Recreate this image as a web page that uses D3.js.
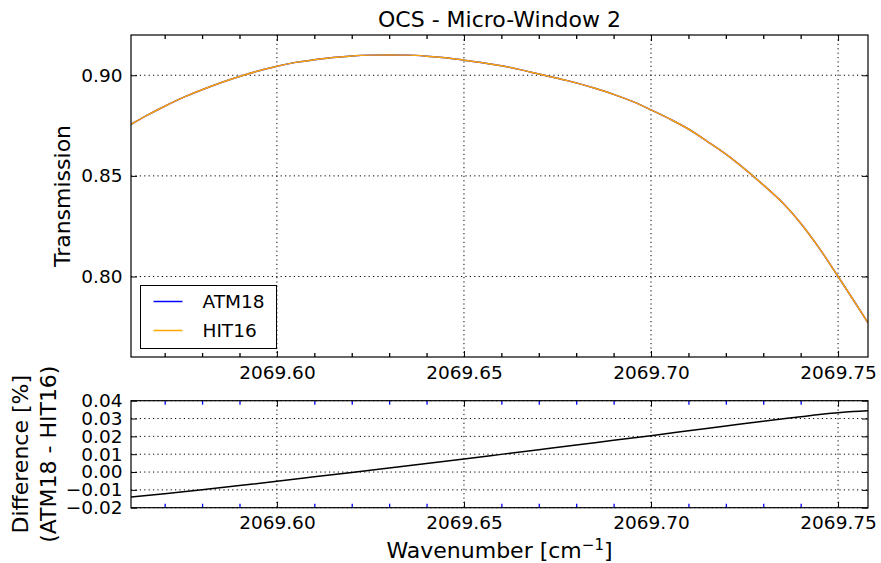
<!DOCTYPE html>
<html>
<head>
<meta charset="utf-8">
<script src="https://cdn.jsdelivr.net/npm/d3@7"></script>
<style>
  body { margin: 0; background: #fff; }
  svg { display: block; font-family: "DejaVu Sans", sans-serif; }
  .grid line { stroke: #000; stroke-width: 1; stroke-dasharray: 1.2,3.2; }
  .axis path { display: none; }
  .axis line { stroke: #000; stroke-width: 1; }
  .axis text { font-size: 18.5px; fill: #000; font-family: "DejaVu Sans", sans-serif; }
</style>
</head>
<body>
<div id="chart"></div>
<script>
// wavenumber grid for the transmission curves (cm-1)
var wnTop = [2069.561, 2069.565, 2069.570, 2069.575, 2069.580, 2069.585, 2069.590, 2069.595,
             2069.600, 2069.605, 2069.610, 2069.615, 2069.620, 2069.625, 2069.630, 2069.635,
             2069.640, 2069.645, 2069.650, 2069.655, 2069.660, 2069.665, 2069.670, 2069.675,
             2069.680, 2069.685, 2069.690, 2069.695, 2069.700, 2069.705, 2069.710, 2069.715,
             2069.720, 2069.725, 2069.730, 2069.735, 2069.740, 2069.745, 2069.750, 2069.755,
             2069.758];
var atm18 = [0.8756, 0.8798, 0.8846, 0.8890, 0.8928, 0.8963, 0.8994, 0.9021,
             0.9045, 0.9064, 0.9077, 0.9088, 0.9096, 0.9100, 0.9101, 0.9100,
             0.9095, 0.9087, 0.9075, 0.9062, 0.9047, 0.9028, 0.9006, 0.8985,
             0.8962, 0.8935, 0.8905, 0.8870, 0.8828, 0.8783, 0.8733, 0.8672,
             0.8608, 0.8535, 0.8455, 0.8370, 0.8265, 0.8140, 0.8000, 0.7857,
             0.7770];
var hit16 = [0.8756, 0.8798, 0.8846, 0.8890, 0.8928, 0.8963, 0.8994, 0.9021,
             0.9045, 0.9064, 0.9077, 0.9088, 0.9096, 0.9100, 0.9101, 0.9100,
             0.9095, 0.9087, 0.9075, 0.9062, 0.9047, 0.9028, 0.9006, 0.8985,
             0.8962, 0.8935, 0.8905, 0.8870, 0.8828, 0.8783, 0.8733, 0.8672,
             0.8608, 0.8535, 0.8455, 0.8370, 0.8265, 0.8140, 0.8000, 0.7857,
             0.7770];

// difference panel (%)
var wnDiff = [2069.561, 2069.570, 2069.580, 2069.590, 2069.600, 2069.610, 2069.620, 2069.630,
              2069.640, 2069.650, 2069.660, 2069.670, 2069.680, 2069.690, 2069.700, 2069.710,
              2069.720, 2069.730, 2069.740, 2069.745, 2069.750, 2069.754, 2069.758];
var diffPct = [-0.0140, -0.0122, -0.0100, -0.0076, -0.0052, -0.0027, -0.0002, 0.0023,
               0.0048, 0.0073, 0.0099, 0.0125, 0.0151, 0.0178, 0.0204, 0.0231,
               0.0258, 0.0285, 0.0310, 0.0323, 0.0333, 0.0339, 0.0343];

// ticks
var xMajor = [2069.60, 2069.65, 2069.70, 2069.75];
var xMinor = [2069.57, 2069.58, 2069.59, 2069.61, 2069.62, 2069.63, 2069.64, 2069.66, 2069.67,
              2069.68, 2069.69, 2069.71, 2069.72, 2069.73, 2069.74];
var yTopTicks = [0.80, 0.85, 0.90];
var yBotTicks = [-0.02, -0.01, 0.00, 0.01, 0.02, 0.03, 0.04];

var seriesNames = ["ATM18", "HIT16"];
var seriesColors = ["#0000ff", "#ffa500"];

var W = 881, H = 563;
var left = 131, right = 868;
var topPanel = {top: 35, bottom: 357};
var botPanel = {top: 400.7, bottom: 507.7};

var svg = d3.select("#chart").append("svg")
    .attr("width", W)
    .attr("height", H);

svg.append("rect").attr("width", W).attr("height", H).attr("fill", "#fff");

var x = d3.scaleLinear().domain([2069.561, 2069.758]).range([left, right]);
var yTop = d3.scaleLinear().domain([0.76, 0.92]).range([topPanel.bottom, topPanel.top]);
var yBot = d3.scaleLinear().domain([-0.02, 0.04]).range([botPanel.bottom, botPanel.top]);

var defs = svg.append("defs");
defs.append("clipPath").attr("id", "clip-top").append("rect")
    .attr("x", left).attr("y", topPanel.top)
    .attr("width", right - left).attr("height", topPanel.bottom - topPanel.top);
defs.append("clipPath").attr("id", "clip-bot").append("rect")
    .attr("x", left).attr("y", botPanel.top)
    .attr("width", right - left).attr("height", botPanel.bottom - botPanel.top);

// draws grid, ticks on all four sides and the frame of one panel
var drawPanel = function (p, y, yTicks, yFmt, minorColor) {
    var g = svg.append("g");

    // grid
    var grid = g.append("g").attr("class", "grid");
    grid.selectAll(".gx").data(xMajor).enter().append("line")
        .attr("x1", function (d) { return x(d); })
        .attr("x2", function (d) { return x(d); })
        .attr("y1", p.top).attr("y2", p.bottom);
    grid.selectAll(".gy").data(yTicks).enter().append("line")
        .attr("x1", left).attr("x2", right)
        .attr("y1", function (d) { return y(d); })
        .attr("y2", function (d) { return y(d); });

    // bottom axis with labels
    g.append("g").attr("class", "axis")
        .attr("transform", "translate(0," + p.bottom + ")")
        .call(d3.axisBottom(x).tickValues(xMajor).tickSizeInner(-6).tickSizeOuter(0)
            .tickPadding(8.5).tickFormat(d3.format(".2f")));
    g.append("g").attr("class", "axis")
        .attr("transform", "translate(0," + p.top + ")")
        .call(d3.axisTop(x).tickValues(xMajor).tickSizeInner(-6).tickSizeOuter(0).tickFormat(""));

    // minor x ticks
    var mb = g.append("g").attr("class", "axis minor")
        .attr("transform", "translate(0," + p.bottom + ")")
        .call(d3.axisBottom(x).tickValues(xMinor).tickSizeInner(-4).tickSizeOuter(0).tickFormat(""));
    var mt = g.append("g").attr("class", "axis minor")
        .attr("transform", "translate(0," + p.top + ")")
        .call(d3.axisTop(x).tickValues(xMinor).tickSizeInner(-4).tickSizeOuter(0).tickFormat(""));
    mb.selectAll("line").style("stroke", minorColor).style("stroke-width", 1.3);
    mt.selectAll("line").style("stroke", minorColor).style("stroke-width", 1.3);

    // y axes
    g.append("g").attr("class", "axis")
        .attr("transform", "translate(" + left + ",0)")
        .call(d3.axisLeft(y).tickValues(yTicks).tickSizeInner(-6).tickSizeOuter(0)
            .tickPadding(8.5).tickFormat(yFmt));
    g.append("g").attr("class", "axis")
        .attr("transform", "translate(" + right + ",0)")
        .call(d3.axisRight(y).tickValues(yTicks).tickSizeInner(-6).tickSizeOuter(0).tickFormat(""));

    return g;
};

drawPanel(topPanel, yTop, yTopTicks, d3.format(".2f"), "#000");
drawPanel(botPanel, yBot, yBotTicks, d3.format(".2f"), "#0000ff");

// transmission curves
var lineTop = d3.line()
    .x(function (d) { return x(d[0]); })
    .y(function (d) { return yTop(d[1]); })
    .curve(d3.curveMonotoneX);

var curves = [atm18, hit16];
svg.append("g").attr("clip-path", "url(#clip-top)")
    .selectAll("path").data(curves).enter().append("path")
    .attr("d", function (vals) { return lineTop(wnTop.map(function (w, i) { return [w, vals[i]]; })); })
    .attr("fill", "none")
    .attr("stroke", function (d, i) { return seriesColors[i]; })
    .attr("stroke-width", 1.5);

// difference curve
var lineBot = d3.line()
    .x(function (d) { return x(d[0]); })
    .y(function (d) { return yBot(d[1]); })
    .curve(d3.curveMonotoneX);
svg.append("g").attr("clip-path", "url(#clip-bot)")
    .append("path")
    .attr("d", lineBot(wnDiff.map(function (w, i) { return [w, diffPct[i]]; })))
    .attr("fill", "none")
    .attr("stroke", "#000")
    .attr("stroke-width", 1.5);

// frames
[topPanel, botPanel].forEach(function (p) {
    svg.append("rect")
        .attr("x", left).attr("y", p.top)
        .attr("width", right - left).attr("height", p.bottom - p.top)
        .attr("fill", "none").attr("stroke", "#000").attr("stroke-width", 1.2);
});

// legend
var leg = svg.append("g").attr("transform", "translate(140.5,285.5)");
leg.append("rect").attr("width", 136).attr("height", 63)
    .attr("fill", "#fff").attr("stroke", "#000").attr("stroke-width", 1);
seriesNames.forEach(function (name, i) {
    var yy = 16 + i * 29;
    leg.append("line").attr("x1", 13).attr("x2", 42).attr("y1", yy).attr("y2", yy)
        .attr("stroke", seriesColors[i]).attr("stroke-width", 1.5);
    leg.append("text").attr("x", 62).attr("y", yy + 6.8)
        .attr("font-size", 18.5).text(name);
});

// title and labels
svg.append("text").attr("x", (left + right) / 2).attr("y", 27)
    .attr("text-anchor", "middle").attr("font-size", 22)
    .text("OCS - Micro-Window 2");

svg.append("text")
    .attr("transform", "translate(70," + ((topPanel.top + topPanel.bottom) / 2) + ") rotate(-90)")
    .attr("text-anchor", "middle").attr("font-size", 22)
    .text("Transmission");

var by = (botPanel.top + botPanel.bottom) / 2;
svg.append("text")
    .attr("transform", "translate(28," + by + ") rotate(-90)")
    .attr("text-anchor", "middle").attr("font-size", 22)
    .text("Difference [%]");
svg.append("text")
    .attr("transform", "translate(56," + by + ") rotate(-90)")
    .attr("text-anchor", "middle").attr("font-size", 22)
    .text("(ATM18 - HIT16)");

var xl = svg.append("text").attr("x", (left + right) / 2).attr("y", 558)
    .attr("text-anchor", "middle").attr("font-size", 22);
xl.append("tspan").text("Wavenumber [cm");
xl.append("tspan").attr("dy", -8).attr("font-size", 15).text("\u22121");
xl.append("tspan").attr("dy", 8).text("]");
</script>
</body>
</html>
